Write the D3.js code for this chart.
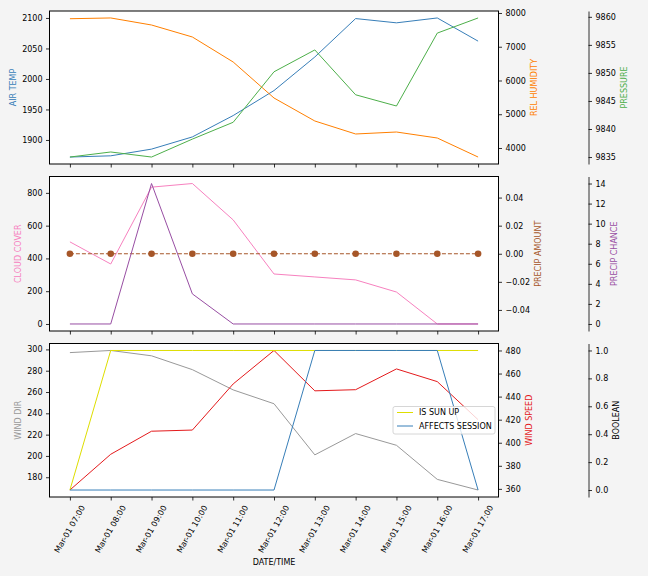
<!DOCTYPE html>
<html>
<head>
<meta charset="utf-8">
<script src="https://cdn.jsdelivr.net/npm/d3@7"></script>
<style>
  html, body { margin: 0; padding: 0; background: #f4f4f4; }
  svg { display: block; font-family: "DejaVu Sans", sans-serif; }
</style>
</head>
<body>
<svg id="chart" width="648" height="576"></svg>
<script>
// ---------------- DATA ----------------
const times = ["Mar-01 07:00","Mar-01 08:00","Mar-01 09:00","Mar-01 10:00","Mar-01 11:00","Mar-01 12:00",
               "Mar-01 13:00","Mar-01 14:00","Mar-01 15:00","Mar-01 16:00","Mar-01 17:00"];
const airTemp      = [1872, 1874, 1885, 1905, 1940, 1981, 2036, 2099, 2092, 2100, 2062];
const relHumidity  = [7830, 7853, 7644, 7289, 6548, 5481, 4800, 4415, 4474, 4296, 3732];
const pressure     = [9835.0, 9835.9, 9835.0, 9838.2, 9841.2, 9850.2, 9854.1, 9846.1, 9844.1, 9857.1, 9859.8];
const cloudCover   = [501, 366, 835, 857, 635, 305, 287, 269, 195, 0, 0];
const precipAmount = [0, 0, 0, 0, 0, 0, 0, 0, 0, 0, 0];
const precipChance = [0, 0, 14, 3, 0, 0, 0, 0, 0, 0, 0];
const windDir      = [297, 299, 294, 281, 262, 249, 201, 221, 210, 178, 168];
const windSpeed    = [359, 390, 410, 411, 451, 480, 445, 446, 464, 453, 420];
const isSunUp        = [0, 1, 1, 1, 1, 1, 1, 1, 1, 1, 1];
const affectsSession = [0, 0, 0, 0, 0, 0, 1, 1, 1, 1, 0];

const tempTicks     = [1900, 1950, 2000, 2050, 2100];
const humTicks      = [4000, 5000, 6000, 7000, 8000];
const presTicks     = [9835, 9840, 9845, 9850, 9855, 9860];
const cloudTicks    = [0, 200, 400, 600, 800];
const pAmtTicks     = [-0.04, -0.02, 0, 0.02, 0.04];
const pChanceTicks  = [0, 2, 4, 6, 8, 10, 12, 14];
const windDirTicks  = [180, 200, 220, 240, 260, 280, 300];
const windSpdTicks  = [360, 380, 400, 420, 440, 460, 480];
const boolTicks     = [0, 0.2, 0.4, 0.6, 0.8, 1.0];

// ---------------- LAYOUT ----------------
const svg = d3.select("#chart");
const X0 = 49.5, X1 = 498.5, OFFX = 588.5;
const panels = [
  { top: 11, bottom: 164 },
  { top: 176.5, bottom: 331 },
  { top: 343.5, bottom: 497 }
];
const FS = 8;
const minus = s => s.replace("-", "\u2212");

const x = d3.scaleLinear().domain([-0.5, times.length - 0.5]).range([X0, X1]);
const idx = times.map((d, i) => i);

function padDomain(vals) {
  let lo = d3.min(vals), hi = d3.max(vals);
  if (lo === hi) { lo -= Math.abs(lo) * 0.05 || 0.05; hi += Math.abs(hi) * 0.05 || 0.05; }
  const m = (hi - lo) * 0.05;
  return [lo - m, hi + m];
}

const panelDefs = [
  { series: [
      { label: "AIR TEMP", values: airTemp, color: "#377eb8", side: "left", ticks: tempTicks, fmt: d3.format("d") },
      { label: "REL HUMIDITY", values: relHumidity, color: "#ff7f00", side: "right", ticks: humTicks, fmt: d3.format("d") },
      { label: "PRESSURE", values: pressure, color: "#4daf4a", side: "offset", ticks: presTicks, fmt: d3.format("d") }
  ]},
  { series: [
      { label: "CLOUD COVER", values: cloudCover, color: "#f781bf", side: "left", ticks: cloudTicks, fmt: d3.format("d") },
      { label: "PRECIP AMOUNT", values: precipAmount, color: "#a65628", side: "right", ticks: pAmtTicks, fmt: d => minus(d3.format(".2f")(d)), dash: "4,2", markers: true },
      { label: "PRECIP CHANCE", values: precipChance, color: "#984ea3", side: "offset", ticks: pChanceTicks, fmt: d3.format("d") }
  ]},
  { series: [
      { label: "WIND DIR", values: windDir, color: "#999999", side: "left", ticks: windDirTicks, fmt: d3.format("d") },
      { label: "WIND SPEED", values: windSpeed, color: "#e41a1c", side: "right", ticks: windSpdTicks, fmt: d3.format("d") },
      { label: "BOOLEAN", labelColor: "#000", multi: [
          { name: "IS SUN UP", values: isSunUp, color: "#dede00" },
          { name: "AFFECTS SESSION", values: affectsSession, color: "#377eb8" }
        ], side: "offset", ticks: boolTicks, fmt: d3.format(".1f") }
  ]}
];

panelDefs.forEach((pd, pi) => {
  const P = panels[pi];
  const g = svg.append("g");
  g.append("rect").attr("x", X0).attr("y", P.top).attr("width", X1 - X0).attr("height", P.bottom - P.top)
    .attr("fill", "#ffffff");

  pd.series.forEach(s => {
    const allVals = s.multi ? s.multi.flatMap(m => m.values) : s.values;
    const y = d3.scaleLinear().domain(padDomain(allVals)).range([P.bottom, P.top]);
    const line = d3.line().x(i => x(i)).y((i) => y(0));
    const drawLine = (vals, color, dash) => {
      g.append("path")
        .attr("d", d3.line().x((d, i) => x(i)).y(d => y(d))(vals))
        .attr("fill", "none").attr("stroke", color).attr("stroke-width", 1)
        .attr("stroke-dasharray", dash || null);
    };
    if (s.multi) {
      s.multi.forEach(m => drawLine(m.values, m.color));
    } else {
      drawLine(s.values, s.color, s.dash);
      if (s.markers) {
        g.selectAll(null).data(s.values).enter().append("circle")
          .attr("cx", (d, i) => x(i)).attr("cy", d => y(d)).attr("r", 3.3)
          .attr("fill", s.color);
      }
    }

    // axis
    let axis, ax, pos;
    if (s.side === "left") { axis = d3.axisLeft(y); pos = X0; }
    else if (s.side === "right") { axis = d3.axisRight(y); pos = X1; }
    else { axis = d3.axisRight(y); pos = OFFX; }
    axis.tickValues(s.ticks).tickFormat(s.fmt).tickSize(3.5).tickPadding(3.5).tickSizeOuter(0);
    ax = g.append("g").attr("transform", `translate(${pos},0)`).call(axis);
    ax.selectAll("text").attr("font-size", FS).attr("fill", "#000").attr("font-family", "DejaVu Sans");
    ax.selectAll("line").attr("stroke", "#000").attr("stroke-width", 0.8);
    if (s.side === "offset") {
      ax.select(".domain").attr("stroke", "#000").attr("stroke-width", 0.8);
    } else {
      ax.select(".domain").remove();
    }
    // axis label, placed outside tick labels
    const bb = ax.node().getBBox();
    let lx;
    if (s.side === "left") lx = pos + bb.x - 4 - 4.5;
    else lx = pos + bb.x + bb.width + 4 + 4.5;
    g.append("text")
      .attr("transform", `translate(${lx},${(P.top + P.bottom) / 2}) rotate(-90)`)
      .attr("text-anchor", "middle").attr("dominant-baseline", "central")
      .attr("font-size", FS).attr("fill", s.labelColor || s.color)
      .text(s.label);
  });

  // x axis ticks
  const xa = d3.axisBottom(x).tickValues(idx).tickSize(3.5).tickSizeOuter(0).tickFormat("");
  const xg = g.append("g").attr("transform", `translate(0,${P.bottom})`).call(xa);
  xg.select(".domain").remove();
  xg.selectAll("line").attr("stroke", "#000").attr("stroke-width", 0.8);

  // frame
  g.append("rect").attr("x", X0).attr("y", P.top).attr("width", X1 - X0).attr("height", P.bottom - P.top)
    .attr("fill", "none").attr("stroke", "#000").attr("stroke-width", 1);

  if (pi === 2) {
    // rotated tick labels
    idx.forEach(i => {
      const t = g.append("text").attr("font-size", FS).attr("fill", "#000")
        .attr("text-anchor", "middle").attr("dominant-baseline", "central").text(times[i]);
      const L = t.node().getComputedTextLength();
      const h = FS * 1.1;
      const H = L * Math.sin(Math.PI / 3) + h * Math.cos(Math.PI / 3);
      t.attr("transform", `translate(${x(i)},${P.bottom + 7 + H / 2}) rotate(-60)`);
    });
    g.append("text").attr("x", (X0 + X1) / 2).attr("y", 562).attr("text-anchor", "middle")
      .attr("dominant-baseline", "central").attr("font-size", FS).attr("fill", "#000").text("DATE/TIME");

    // legend
    const boolSeries = pd.series[2].multi;
    const lg = g.append("g");
    lg.append("rect").attr("x", 393).attr("y", 406.5).attr("width", 102).attr("height", 27.5).attr("rx", 2)
      .attr("fill", "#ffffff").attr("fill-opacity", 0.8).attr("stroke", "#cccccc").attr("stroke-width", 0.8);
    boolSeries.forEach((m, k) => {
      const yy = 412.5 + k * 13.5;
      lg.append("line").attr("x1", 397).attr("x2", 413).attr("y1", yy).attr("y2", yy)
        .attr("stroke", m.color).attr("stroke-width", 1);
      lg.append("text").attr("x", 419).attr("y", yy).attr("dominant-baseline", "central")
        .attr("font-size", FS).attr("fill", "#000").text(m.name);
    });
  }
});
</script>
</body>
</html>
